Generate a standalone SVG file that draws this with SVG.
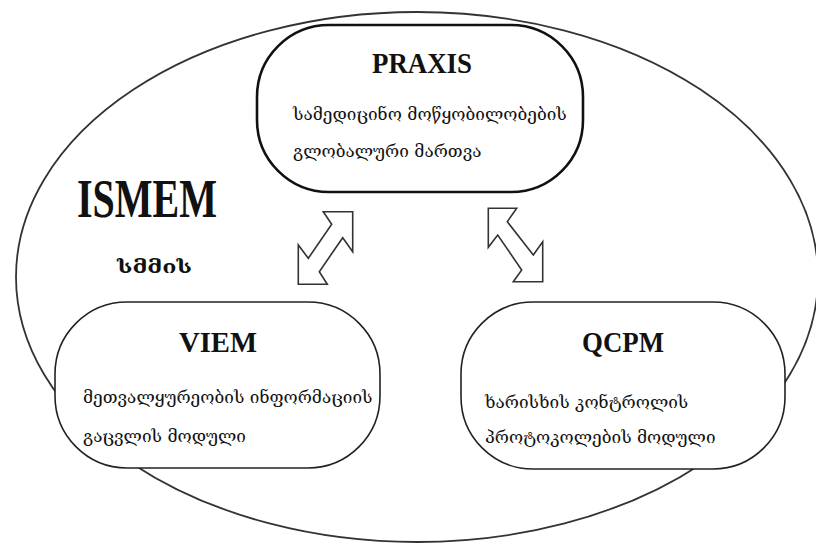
<svg xmlns="http://www.w3.org/2000/svg" width="816" height="544" viewBox="0 0 816 544">
<style>
.frame{fill:none;stroke:#333;stroke-width:1.8}
.box{fill:#fff;stroke:#222;stroke-width:1.6}
.boxb{fill:#fff;stroke:#111;stroke-width:2.6}
.arrow{fill:#fff;stroke:#333;stroke-width:1.6;stroke-linejoin:miter}
.title{font-family:"Liberation Serif","Times New Roman",serif;font-weight:bold;fill:#111;text-anchor:middle}
.geo{font-family:"DejaVu Serif","DejaVu Sans",sans-serif;font-size:17.2px;fill:#111}
</style>
<rect width="816" height="544" fill="#fff"/>
<ellipse class="frame" cx="417" cy="277" rx="401" ry="265"/>
<g id="ismem">
<text class="title" x="147" y="217" font-size="55" textLength="140" lengthAdjust="spacingAndGlyphs">ISMEM</text>
<text class="geo" x="117" y="273" font-size="27" font-weight="bold" textLength="75" lengthAdjust="spacingAndGlyphs">სმმის</text>
</g>
<g id="praxis">
<rect class="boxb" x="257" y="25" width="326" height="167" rx="72" ry="72"/>
<text class="title" x="422" y="73" font-size="30" textLength="100" lengthAdjust="spacingAndGlyphs">PRAXIS</text>
<text class="geo" x="293" y="120">სამედიცინო მოწყობილობების</text>
<text class="geo" x="293" y="157">გლობალური მართვა</text>
</g>
<g id="viem">
<rect class="box" x="55" y="302" width="325" height="166" rx="72" ry="72"/>
<text class="title" x="218" y="352" font-size="30" textLength="78" lengthAdjust="spacingAndGlyphs">VIEM</text>
<text class="geo" x="83" y="403">მეთვალყურეობის ინფორმაციის</text>
<text class="geo" x="83" y="442">გაცვლის მოდული</text>
</g>
<g id="qcpm">
<rect class="box" x="461" y="302" width="324" height="167" rx="72" ry="72"/>
<text class="title" x="623" y="352" font-size="30" textLength="82" lengthAdjust="spacingAndGlyphs">QCPM</text>
<text class="geo" x="485" y="408">ხარისხის კონტროლის</text>
<text class="geo" x="485" y="443">პროტოკოლების მოდული</text>
</g>
<g id="connectors">
<polygon class="arrow" points="323.3,211.7 352.7,211.7 352.7,251.7 342.7,237.7 319.3,271.7 327.3,284.3 298.3,284.3 298.3,245 308.3,258.3 331.7,224.3"/>
<polygon class="arrow" points="488.3,208.3 516.7,208.3 507.3,221.7 533.3,255 542.7,241.7 542.7,281.7 513.3,281.7 521.7,270 497.7,235 488.3,247.3"/>
</g>
</svg>
